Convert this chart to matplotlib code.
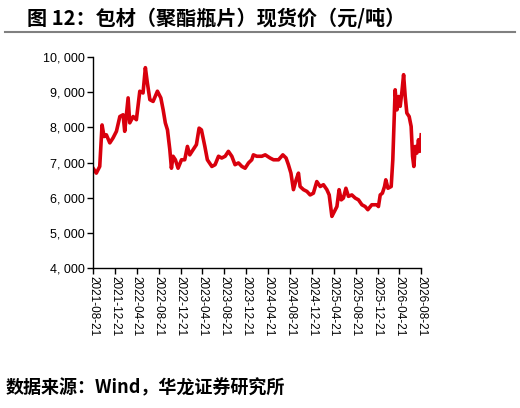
import matplotlib
matplotlib.use("Agg")
import matplotlib.pyplot as plt
import matplotlib.dates as mdates
import matplotlib.ticker as mticker
import pandas as pd

plt.rcParams['font.family'] = ['Liberation Sans', 'Noto Sans CJK SC', 'DejaVu Sans']

title = "图 12：包材（聚酯瓶片）现货价（元/吨）"
source = "数据来源：Wind，华龙证券研究所"

dates = [
    "2021-08-21", "2021-09-08", "2021-09-27", "2021-10-10", "2021-10-21", "2021-11-03",
    "2021-11-22", "2021-12-10", "2021-12-29", "2022-01-17", "2022-02-04", "2022-02-13",
    "2022-03-04", "2022-03-13", "2022-04-01", "2022-04-19", "2022-05-08", "2022-05-26",
    "2022-06-08", "2022-06-19", "2022-07-03", "2022-07-21", "2022-08-14", "2022-09-02",
    "2022-09-15", "2022-09-27", "2022-10-09", "2022-10-22", "2022-10-31", "2022-11-09",
    "2022-11-22", "2022-12-07", "2022-12-26", "2023-01-13", "2023-01-28", "2023-02-10",
    "2023-03-01", "2023-03-19", "2023-04-03", "2023-04-16", "2023-05-05", "2023-05-19",
    "2023-06-13", "2023-07-01", "2023-07-20", "2023-08-07", "2023-08-26", "2023-09-13",
    "2023-10-02", "2023-10-20", "2023-11-08", "2023-11-27", "2023-12-15", "2024-01-03",
    "2024-01-21", "2024-01-30", "2024-02-18", "2024-03-17", "2024-04-05", "2024-05-02",
    "2024-05-21", "2024-06-18", "2024-07-12", "2024-07-30", "2024-08-12", "2024-08-26",
    "2024-09-09", "2024-09-24", "2024-10-07", "2024-10-16", "2024-11-04", "2024-11-23",
    "2024-12-11", "2024-12-29", "2025-01-17", "2025-02-05", "2025-02-23", "2025-03-14",
    "2025-03-27", "2025-04-11", "2025-04-25", "2025-05-09", "2025-05-21", "2025-06-02",
    "2025-06-14", "2025-06-28", "2025-07-12", "2025-07-31", "2025-08-19", "2025-09-06",
    "2025-09-25", "2025-10-13", "2025-10-28", "2025-11-19", "2025-12-17", "2025-12-26",
    "2026-01-05", "2026-01-17", "2026-01-29", "2026-02-05", "2026-02-17", "2026-03-07",
    "2026-03-16", "2026-03-24", "2026-03-29", "2026-04-08", "2026-04-17", "2026-04-26",
    "2026-05-06", "2026-05-15", "2026-05-24", "2026-06-02", "2026-06-15", "2026-06-26",
    "2026-07-04", "2026-07-11", "2026-07-19", "2026-07-28", "2026-08-06", "2026-08-13",
    "2026-08-21",
]
prices = [
    6840, 6700, 6890, 8070, 7740, 7790,
    7560, 7700, 7890, 8310, 8360, 7890,
    8840, 8130, 8310, 8220, 9030, 8980,
    9700, 9270, 8790, 8740, 9030, 8840,
    8500, 8130, 7930, 7370, 6840, 7180,
    7080, 6840, 7080, 7080, 7460, 7220,
    7370, 7510, 7980, 7930, 7460, 7080,
    6890, 6940, 7180, 7130, 7180, 7320,
    7180, 6940, 6990, 6890, 6840, 6990,
    7080, 7220, 7180, 7180, 7220, 7130,
    7080, 7080, 7220, 7130, 6940, 6700,
    6230, 6510, 6700, 6320, 6230, 6180,
    6080, 6130, 6460, 6320, 6370, 6230,
    6080, 5470, 5610, 5750, 6230, 5940,
    5990, 6270, 6040, 6080, 5990, 5940,
    5800, 5750, 5660, 5800, 5800, 5750,
    6080, 6130, 6320, 6510, 6270, 6320,
    7080, 8310, 9070, 8500, 8880, 8600,
    9030, 9500, 8880, 8410, 8310, 8030,
    7180, 6890, 7460, 7270, 7650, 7320,
    7790,
]
tick_dates = pd.date_range("2021-08-01", periods=16, freq="4MS") + pd.Timedelta(days=20)
y_ticks = [4000, 5000, 6000, 7000, 8000, 9000, 10000]

x = pd.to_datetime(dates)

fig = plt.figure(figsize=(5.2, 4.08), dpi=100)
ax = fig.add_axes([0.179, 0.343, 0.631, 0.517])

ax.plot(x, prices, color="#d9000d", linewidth=2.6, solid_joinstyle="round")

ax.set_xlim(pd.Timestamp("2021-08-21"), pd.Timestamp("2026-08-21"))
ax.set_ylim(4000, 10000)
ax.set_yticks(y_ticks)
ax.yaxis.set_major_formatter(mticker.FuncFormatter(lambda v, p: "{:,}".format(int(v)).replace(",", ", ")))
ax.set_xticks(tick_dates)
ax.xaxis.set_major_formatter(mdates.DateFormatter("%Y-%m-%d"))

for s in ["top", "right"]:
    ax.spines[s].set_visible(False)
for s in ["left", "bottom"]:
    ax.spines[s].set_linewidth(1.0)
    ax.spines[s].set_color("black")

ax.tick_params(axis="y", direction="out", length=4, width=1, labelsize=9, pad=2)
ax.tick_params(axis="x", direction="out", length=4, width=1, labelsize=8.5, pad=2)
plt.setp(ax.get_xticklabels(), rotation=270, ha="center", va="top")

fig.text(0.052, 0.955, title, fontsize=14.5, fontweight="bold",
         family=["Noto Sans CJK SC", "DejaVu Sans"], va="center", ha="left")
fig.add_artist(plt.Line2D([0.01, 0.99], [0.922, 0.922], color="#808080", linewidth=1.5))
fig.text(0.01, 0.05, source, fontsize=13, fontweight="bold",
         family=["Noto Sans CJK SC", "DejaVu Sans"], va="center", ha="left")

fig.savefig("out.png", dpi=100)
